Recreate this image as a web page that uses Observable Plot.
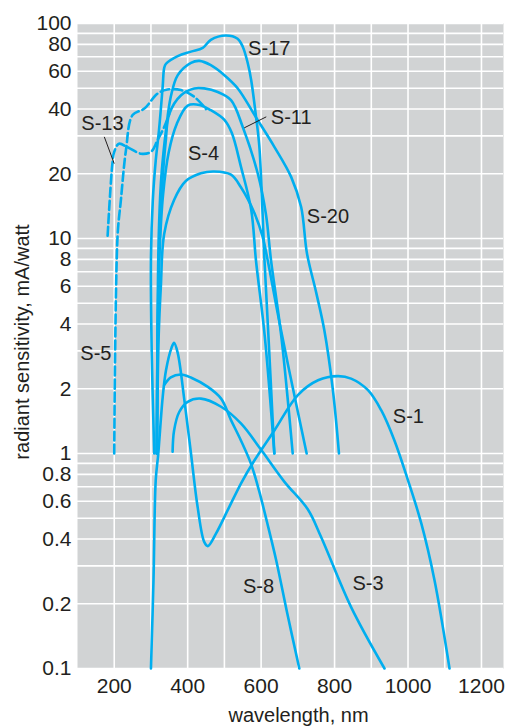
<!DOCTYPE html>
<html>
<head>
<meta charset="utf-8">
<script src="https://cdn.jsdelivr.net/npm/d3@7"></script>
<script src="https://cdn.jsdelivr.net/npm/@observablehq/plot@0.6"></script>
<style>
  html, body { margin: 0; padding: 0; background: #fff; }
</style>
</head>
<body>
<div id="chart"></div>
<script>
// ---- data: [wavelength nm, radiant sensitivity mA/W] ----
const s17 = [[309,1],[302,3],[300,8],[305,15],[313,23],[322,32],[332,51],[336,62],[341,65],[373,70.5],[409,74],[441,77],[463,84],[504,88],[536,85],[550,78],[564,65],[573,54.5],[586,37],[595,27],[604,13],[609,8],[620,3.5],[636,1]];
const s20 = [[316,1],[318,4],[321,10],[327,18],[334,25],[341,32],[354,45.6],[373,57.5],[409,65.6],[432,67],[463,64],[500,57.5],[536,50],[586,36.6],[636,26.7],[682,19.3],[709,14],[725,8.5],[750,5.6],[772,3.75],[795,2],[812,1]];
const s11 = [[316,1],[318,3.5],[322,8],[330,17],[340,28],[350,38],[382,46.4],[418,49.9],[445,49.9],[482,48],[518,44],[550,33],[591,20],[613,13],[627,7.9],[655,3.5],[686,1]];
const s4  = [[316,1],[319,4],[324,9],[333,16],[348,25],[370,34],[400,41.5],[432,41.8],[463,39.5],[500,35.6],[520,31],[545,21.6],[573,13.6],[586,7.9],[610,3.5],[636,1]];
const s10 = [[316,1],[321,3.5],[327,6],[336,10.5],[363,15.1],[395,18.5],[436,20.1],[472,20.5],[518,19.8],[545,17.3],[582,13.1],[604,10.2],[618,7.9],[645,4.5],[675,2.5],[724,1]];
const s13 = [[182,10.3],[195,22.3],[200,25.3],[213,27.6],[236,26.6],[273,24.8],[300,25.3],[318,28.7],[336,33],[350,38]];
const s5  = [[200,1],[209,10.2],[218,15],[232,25.8],[250,37.5],[282,40.2],[318,47.2],[345,49.3],[382,49],[418,45.6],[450,40]];
const s1  = [[300,0.1],[307,0.26],[313,0.75],[320,1.0],[332,1.83],[341,2.44],[356,3.1],[363,3.27],[373,2.93],[391,1.77],[409,1.0],[427,0.565],[445,0.388],[455,0.371],[477,0.424],[509,0.545],[545,0.725],[582,0.93],[636,1.28],[700,1.87],[755,2.19],[809,2.29],[845,2.23],[891,1.97],[927,1.59],[963,1.15],[1000,0.75],[1036,0.474],[1072,0.258],[1113,0.1]];
const s8  = [[336,2.08],[354,2.26],[382,2.33],[410,2.25],[455,2.04],[491,1.8],[518,1.43],[545,1.15],[572,0.9],[594,0.675],[616,0.48],[641,0.319],[671,0.181],[704,0.1]];
const s3  = [[359,1.02],[363,1.28],[377,1.56],[400,1.74],[436,1.80],[491,1.65],[545,1.38],[600,1.04],[663,0.74],[727,0.55],[763,0.41],[845,0.193],[936,0.1]];

const solidSeries = {"S-17": s17, "S-20": s20, "S-11": s11, "S-4": s4, "S-10": s10, "S-1": s1, "S-8": s8, "S-3": s3};
const dashedSeries = {"S-13": s13, "S-5": s5};

// labels: name, wavelength, sensitivity
const labelNames = ["S-17","S-13","S-11","S-4","S-20","S-5","S-1","S-8","S-3"];
const labelNm    = [622, 168, 682, 443, 782, 150, 1001, 593, 891];
const labelVal   = [76.8, 34.3, 36.5, 24.9, 12.6, 2.92, 1.49, 0.24, 0.248];

// leader lines: [nm1, v1, nm2, v2]
const leaders = [[173, 29.7, 200, 22.3], [554, 32.7, 614, 36.8]];

// axis ticks & grid
const xTicks = [200, 400, 600, 800, 1000, 1200];
const yTicks = [0.1, 0.2, 0.4, 0.6, 0.8, 1, 2, 4, 6, 8, 10, 20, 40, 60, 80, 100];
const xGrid = [200, 300, 400, 500, 600, 700, 800, 900, 1000, 1100, 1200];
const yGrid = [0.1,0.2,0.3,0.4,0.5,0.6,0.7,0.8,0.9,1,2,3,4,5,6,7,8,9,10,20,30,40,50,60,70,80,90,100];

const toRows = (obj) => Object.entries(obj).flatMap(([name, pts]) => pts.map(([nm, v]) => ({name, nm, v})));
const solidRows = toRows(solidSeries);
const dashedRows = toRows(dashedSeries);
const labelRows = labelNames.map((name, i) => ({name, nm: labelNm[i], v: labelVal[i]}));
const leaderRows = leaders.map(([a, b, c, d]) => ({x1: a, y1: b, x2: c, y2: d}));

const BLUE = "#00aeef";
const INK = "#231f20";

const chart = Plot.plot({
  width: 506,
  height: 728,
  marginLeft: 77,
  marginRight: 3,
  marginTop: 23,
  marginBottom: 60,
  style: {fontFamily: "'Liberation Sans', Arial, sans-serif", fontSize: "20px", color: INK, background: "white"},
  x: {domain: [100, 1260], axis: null},
  y: {type: "log", domain: [0.1, 100], axis: null},
  marks: [
    Plot.frame({fill: "#d1d3d4", stroke: null}),
    Plot.ruleX(xGrid, {stroke: "white", strokeWidth: 1.6}),
    Plot.ruleY(yGrid, {stroke: "white", strokeWidth: 1.6}),
    Plot.line(solidRows, {x: "nm", y: "v", z: "name", stroke: BLUE, strokeWidth: 2.6, curve: "catmull-rom"}),
    Plot.line(dashedRows, {x: "nm", y: "v", z: "name", stroke: BLUE, strokeWidth: 2.6, curve: "catmull-rom", strokeDasharray: "9,4"}),
    Plot.link(leaderRows, {x1: "x1", y1: "y1", x2: "x2", y2: "y2", stroke: INK, strokeWidth: 1}),
    Plot.text(labelRows, {x: "nm", y: "v", text: "name", fill: INK, fontSize: 20}),
    // tick labels
    Plot.text(yTicks, {y: d => d, text: d => String(d), frameAnchor: "left", textAnchor: "end", dx: -6, fill: INK, fontSize: 21}),
    Plot.text(xTicks, {x: d => d, text: d => String(d), frameAnchor: "bottom", lineAnchor: "middle", dy: 18, fill: INK, fontSize: 21}),
    // axis titles
    Plot.text(["wavelength, nm"], {frameAnchor: "bottom", lineAnchor: "middle", textAnchor: "middle", dx: 8, dy: 47, fill: INK, fontSize: 20}),
    Plot.text(["radiant sensitivity, mA/watt"], {frameAnchor: "left", rotate: -90, textAnchor: "middle", lineAnchor: "middle", dx: -55, dy: -4, fill: INK, fontSize: 20})
  ]
});
document.getElementById("chart").appendChild(chart);
</script>
</body>
</html>
